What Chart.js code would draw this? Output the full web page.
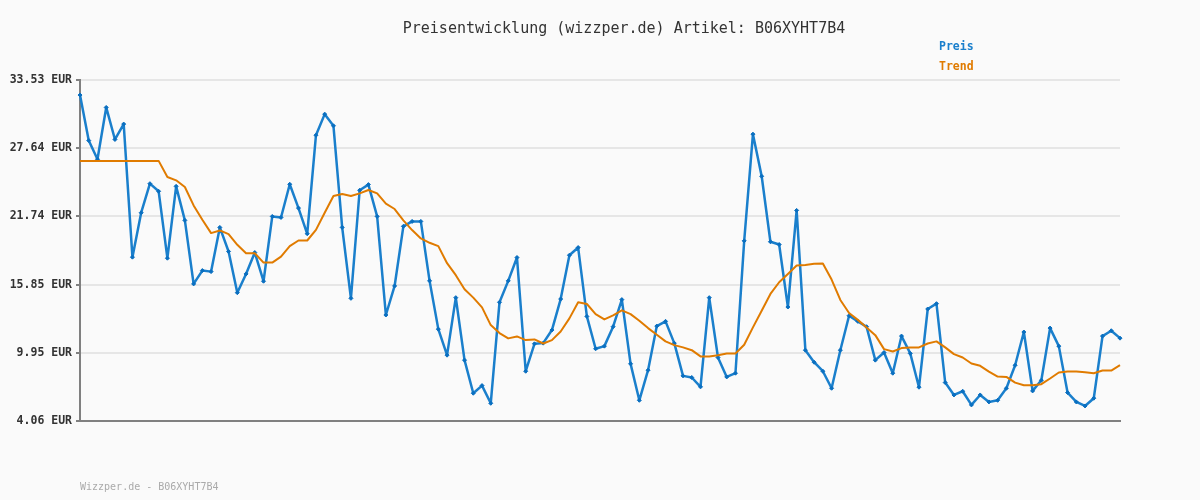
<!DOCTYPE html>
<html>
<head>
<meta charset="utf-8">
<script src="https://cdn.jsdelivr.net/npm/chart.js@4.4.1/dist/chart.umd.min.js"></script>
<style>
    body { margin: 0; background: #fafafa; }
    #wrap { position: relative; width: 1200px; height: 500px; background: #fafafa; }
    #chart { position: absolute; left: 0; top: 0; }
    .txt { position: absolute; font-family: "DejaVu Sans Mono", monospace; white-space: nowrap; }
    #title { left: 0; width: 1248px; top: 19px; text-align: center; font-size: 15px; color: #333; }
    #leg-preis { left: 939px; top: 39px; font-size: 11.5px; font-weight: bold; color: #1a7fcc; }
    #leg-trend { left: 939px; top: 59px; font-size: 11.5px; font-weight: bold; color: #e07b00; }
    #footer { left: 80px; top: 481px; font-size: 10px; color: #aaa; }
</style>
</head>
<body>
<div id="wrap">
    <canvas id="chart" width="1200" height="500"></canvas>
    <div class="txt" id="title">Preisentwicklung (wizzper.de) Artikel: B06XYHT7B4</div>
    <div class="txt" id="leg-preis">Preis</div>
    <div class="txt" id="leg-trend">Trend</div>
    <div class="txt" id="footer">Wizzper.de - B06XYHT7B4</div>
</div>
<script>
// y axis tick values (EUR)
const yTicks = [4.06, 9.95, 15.85, 21.74, 27.64, 33.53];

// price per observation
const preis = [
    32.23, 28.30, 26.68, 31.16, 28.39, 29.72, 18.22, 22.06, 24.57, 23.91,
    18.13, 24.34, 21.40, 15.91, 17.06, 16.97, 20.79, 18.71, 15.15, 16.77,
    18.62, 16.14, 21.74, 21.65, 24.52, 22.46, 20.24, 28.76, 30.58, 29.57,
    20.79, 14.66, 24.00, 24.49, 21.74, 13.22, 15.73, 20.88, 21.31, 21.31,
    16.17, 12.00, 9.75, 14.72, 9.32, 6.46, 7.12, 5.59, 14.32, 16.17,
    18.19, 8.36, 10.73, 10.79, 11.92, 14.60, 18.39, 19.05, 13.10, 10.30,
    10.53, 12.21, 14.55, 9.00, 5.85, 8.45, 12.26, 12.67, 10.79, 7.96,
    7.82, 7.01, 14.72, 9.55, 7.87, 8.19, 19.63, 28.85, 25.21, 19.55,
    19.31, 13.91, 22.26, 10.18, 9.14, 8.36, 6.89, 10.18, 13.16, 12.67,
    12.21, 9.32, 9.98, 8.19, 11.40, 9.90, 6.98, 13.74, 14.20, 7.38,
    6.31, 6.63, 5.45, 6.31, 5.71, 5.85, 6.89, 8.88, 11.75, 6.66,
    7.58, 12.09, 10.53, 6.52, 5.71, 5.36, 6.03, 11.40, 11.86, 11.22
];

// trend line
const trend = [
    26.54, 26.54, 26.54, 26.54, 26.54, 26.54, 26.54, 26.54, 26.54, 26.54,
    25.15, 24.86, 24.28, 22.69, 21.45, 20.30, 20.53, 20.21, 19.29, 18.56,
    18.56, 17.75, 17.75, 18.27, 19.17, 19.66, 19.66, 20.58, 22.06, 23.50,
    23.68, 23.50, 23.73, 24.02, 23.73, 22.84, 22.38, 21.40, 20.56, 19.84,
    19.46, 19.17, 17.70, 16.66, 15.45, 14.72, 13.88, 12.35, 11.66, 11.20,
    11.37, 11.05, 11.11, 10.76, 11.05, 11.80, 12.93, 14.32, 14.17, 13.30,
    12.84, 13.19, 13.62, 13.30, 12.73, 12.09, 11.51, 10.94, 10.62, 10.42,
    10.18, 9.64, 9.64, 9.75, 9.90, 9.90, 10.65, 12.15, 13.59, 15.04,
    16.05, 16.77, 17.50, 17.55, 17.64, 17.67, 16.28, 14.52, 13.39, 12.80,
    12.15, 11.48, 10.27, 10.07, 10.36, 10.42, 10.42, 10.76, 10.94, 10.42,
    9.84, 9.55, 9.03, 8.83, 8.33, 7.90, 7.87, 7.38, 7.15, 7.15,
    7.24, 7.73, 8.25, 8.33, 8.33, 8.28, 8.19, 8.42, 8.42, 8.88
];

const labels = preis.map((_, i) => i + 1);

new Chart(document.getElementById('chart'), {
    type: 'line',
    data: {
        labels: labels,
        datasets: [
            {
                label: 'Trend',
                data: trend,
                borderColor: '#e07b00',
                borderWidth: 2,
                borderJoinStyle: 'round',
                pointRadius: 0,
                tension: 0
            },
            {
                label: 'Preis',
                data: preis,
                borderColor: '#1a7fcc',
                backgroundColor: '#0a6fc0',
                borderWidth: 2.5,
                borderJoinStyle: 'round',
                pointStyle: 'rectRot',
                pointRadius: 2,
                pointBorderWidth: 1,
                pointBorderColor: '#0a6fc0',
                tension: 0
            }
        ]
    },
    options: {
        responsive: false,
        animation: false,
        layout: { padding: { left: 0, right: 80, top: 80, bottom: 71 } },
        plugins: {
            legend: { display: false },
            tooltip: { enabled: false }
        },
        scales: {
            x: {
                offset: false,
                grid: { display: false },
                ticks: { display: false },
                border: { display: true, color: '#808080', width: 2 }
            },
            y: {
                min: yTicks[0],
                max: yTicks[yTicks.length - 1],
                afterBuildTicks: axis => {
                    axis.ticks = yTicks.map(v => ({ value: v }));
                },
                afterFit: axis => { axis.width = 80; },
                grid: {
                    color: '#e6e6e6',
                    lineWidth: 2,
                    tickLength: 4,
                    tickColor: '#808080'
                },
                border: { display: true, color: '#808080', width: 2 },
                ticks: {
                    padding: 4,
                    color: '#333',
                    font: { family: 'DejaVu Sans Mono', size: 11.5, weight: 'bold' },
                    callback: v => v.toFixed(2) + ' EUR'
                }
            }
        }
    }
});
</script>
</body>
</html>
